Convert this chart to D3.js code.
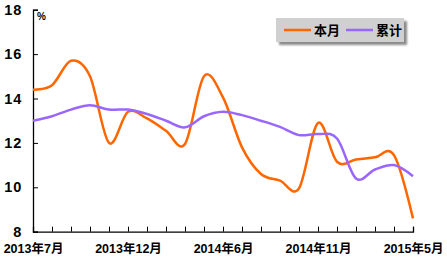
<!DOCTYPE html>
<html>

<head>
   <meta charset="utf-8">
   <title>本月 累计</title>
   <script src="https://d3js.org/d3.v7.min.js"></script>
   <style>
      body { margin: 0; background: #fff; }
      text { font-family: "Liberation Sans", Arial, "Noto Sans CJK SC", sans-serif; font-weight: bold; }
   </style>
</head>

<body>
   <script>
      // categories (1-2 months are combined, so there is no January)
      var months = ["2013年7月", "2013年8月", "2013年9月", "2013年10月", "2013年11月", "2013年12月",
         "2014年2月", "2014年3月", "2014年4月", "2014年5月", "2014年6月", "2014年7月", "2014年8月",
         "2014年9月", "2014年10月", "2014年11月", "2014年12月", "2015年2月", "2015年3月", "2015年4月", "2015年5月"]
      var benyue = [14.4, 14.6, 15.7, 15.0, 12.0, 13.4, 13.1, 12.55, 11.95, 15.0, 14.05, 11.8, 10.6,
         10.3, 9.95, 12.9, 11.15, 11.25, 11.35, 11.45, 8.6]
      var leiji = [13.0, 13.2, 13.5, 13.7, 13.5, 13.5, 13.3, 13.0, 12.7, 13.2, 13.4, 13.25, 13.0,
         12.72, 12.35, 12.4, 12.2, 10.4, 10.8, 11.0, 10.5]
      var xLabels = ["2013年7月", "2013年12月", "2014年6月", "2014年11月", "2015年5月"]
      var yTicks = [8, 10, 12, 14, 16, 18]
      var series = [
         { name: "本月", values: benyue, color: "#FF6600" },
         { name: "累计", values: leiji, color: "#9966FF" }
      ]

      var W = 447, H = 259
      var plotLeft = 33, plotTop = 9.7, plotRight = 413, plotBottom = 231.7

      var svg = d3.select("body").append("svg").attr("width", W).attr("height", H)

      var scaleX = d3.scalePoint().domain(months).range([plotLeft, plotRight]).padding(0)
      var scaleY = d3.scaleLinear().domain([8, 18]).range([plotBottom, plotTop])

      var axisY = d3.axisLeft(scaleY).tickValues(yTicks).tickSize(-5).tickPadding(10)
      var gy = svg.append("g").attr("transform", `translate(${plotLeft},0)`).call(axisY)
      gy.select(".domain").attr("stroke", "#000").attr("stroke-width", 1.3)
      gy.selectAll(".tick line").attr("stroke", "#000")
      gy.selectAll(".tick text").attr("font-size", 14.5).attr("fill", "#000")
         .attr("font-family", null).attr("x", -11).attr("letter-spacing", 0.8)

      var axisX = d3.axisBottom(scaleX).tickSize(-5).tickFormat(d => xLabels.indexOf(d) >= 0 ? d : "").tickPadding(12)
      var gx = svg.append("g").attr("transform", `translate(0,${plotBottom})`).call(axisX)
      gx.select(".domain").attr("stroke", "#000").attr("stroke-width", 1.3)
      gx.selectAll(".tick line").attr("stroke", "#000")
      gx.selectAll(".tick text").attr("font-size", 12.5).attr("fill", "#000").attr("font-family", null)

      svg.append("text").attr("x", 37).attr("y", 20).attr("font-size", 10).text("%")

      var line = d3.line()
         .x((d, i) => scaleX(months[i]))
         .y(d => scaleY(d))
         .curve(d3.curveCardinal.tension(0))

      svg.selectAll("path.series").data(series).enter().append("path")
         .attr("class", "series")
         .attr("d", d => line(d.values))
         .attr("fill", "none")
         .attr("stroke", d => d.color)
         .attr("stroke-width", 2.5)

      // legend with drop shadow
      var defs = svg.append("defs")
      var f = defs.append("filter").attr("id", "blur")
      f.append("feGaussianBlur").attr("stdDeviation", 1.2)
      var lg = svg.append("g").attr("transform", "translate(276,18)")
      lg.append("rect").attr("x", 3).attr("y", 3).attr("width", 128).attr("height", 24)
         .attr("fill", "#8a8a8a").attr("filter", "url(#blur)")
      lg.append("rect").attr("width", 128).attr("height", 24).attr("fill", "#d0d0d0")
      var item = lg.selectAll("g.item").data(series).enter().append("g")
         .attr("transform", (d, i) => `translate(${8 + i * 62},0)`)
      item.append("line").attr("x1", 0).attr("x2", 27).attr("y1", 12).attr("y2", 12)
         .attr("stroke", d => d.color).attr("stroke-width", 2.5)
      item.append("text").attr("x", 30).attr("y", 17).attr("font-size", 13).text(d => d.name)
   </script>
</body>

</html>
